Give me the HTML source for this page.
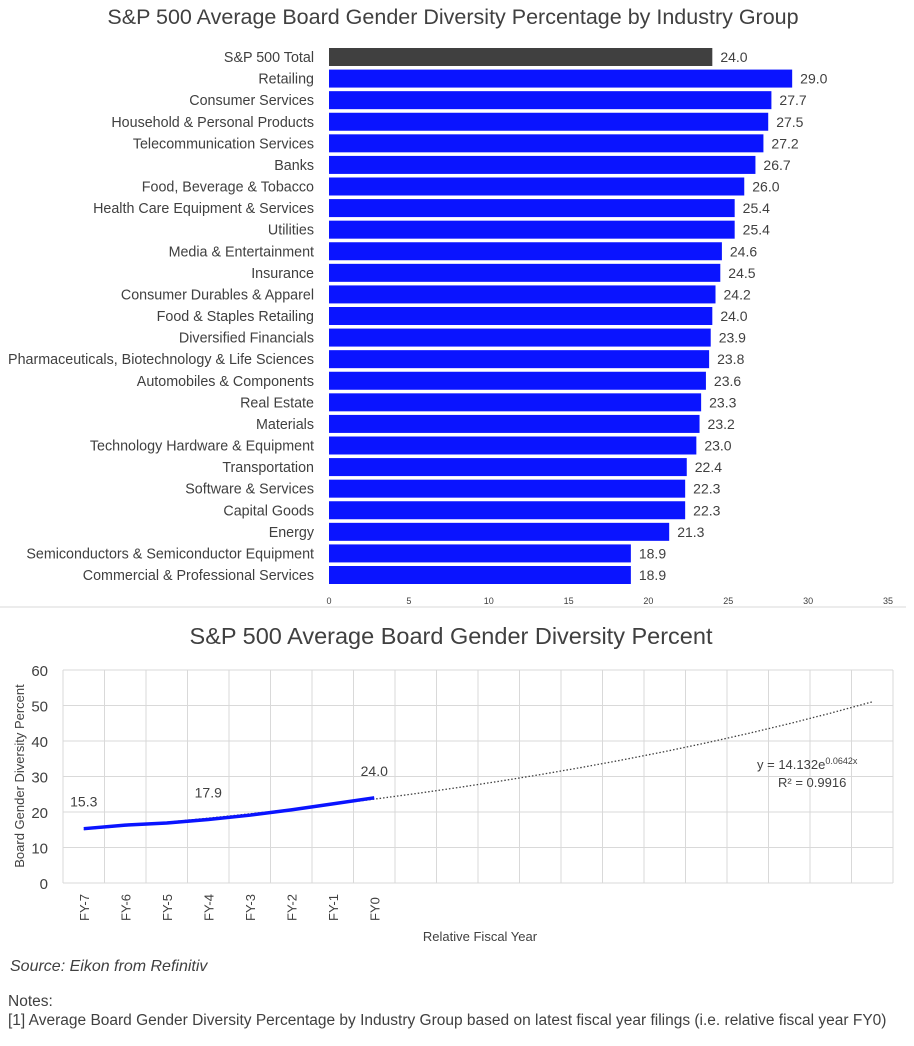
<!DOCTYPE html>
<html><head><meta charset="utf-8"><style>
body{margin:0;background:#fff;font-family:"Liberation Sans",sans-serif;}
svg text{font-family:"Liberation Sans",sans-serif;}
</style></head><body>
<svg id="c" width="914" height="1041" xmlns="http://www.w3.org/2000/svg">
<rect x="0" y="0" width="914" height="1041" fill="#fff"/>
<line x1="0" y1="607" x2="906" y2="607" stroke="#d9d9d9"/>
<text x="453" y="24" font-size="21.5" text-anchor="middle" fill="#404040">S&amp;P 500 Average Board Gender Diversity Percentage by Industry Group</text>
<text x="451" y="644" font-size="23.5" text-anchor="middle" fill="#404040">S&amp;P 500 Average Board Gender Diversity Percent</text>
<g id="topChart"></g><g id="botChart"></g>
<text x="10" y="971" font-size="16" font-style="italic" fill="#404040">Source: Eikon from Refinitiv</text>
<text x="8" y="1006" font-size="15.5" fill="#404040">Notes:</text>
<text x="8" y="1025" font-size="15.5" fill="#404040">[1] Average Board Gender Diversity Percentage by Industry Group based on latest fiscal year filings (i.e. relative fiscal year FY0)</text>
</svg>
<script>
const industries=["S&P 500 Total","Retailing","Consumer Services","Household & Personal Products","Telecommunication Services","Banks","Food, Beverage & Tobacco","Health Care Equipment & Services","Utilities","Media & Entertainment","Insurance","Consumer Durables & Apparel","Food & Staples Retailing","Diversified Financials","Pharmaceuticals, Biotechnology & Life Sciences","Automobiles & Components","Real Estate","Materials","Technology Hardware & Equipment","Transportation","Software & Services","Capital Goods","Energy","Semiconductors & Semiconductor Equipment","Commercial  & Professional Services"];
const industryValues=[24.0,29.0,27.7,27.5,27.2,26.7,26.0,25.4,25.4,24.6,24.5,24.2,24.0,23.9,23.8,23.6,23.3,23.2,23.0,22.4,22.3,22.3,21.3,18.9,18.9];
const xTicks=[0,5,10,15,20,25,30,35];
const years=["FY-7","FY-6","FY-5","FY-4","FY-3","FY-2","FY-1","FY0"];
const yearValues=[15.3,16.3,16.9,17.9,19.1,20.6,22.3,24.0];
const yTicks=[0,10,20,30,40,50,60];
const labeledYears=[0,3,7];
const trendA=14.132, trendB=0.0642, trendEndX=20;
const NS="http://www.w3.org/2000/svg";
function mk(p,t,a,txt){const e=document.createElementNS(NS,t);for(const k in a)e.setAttribute(k,a[k]);if(txt!==undefined)e.textContent=txt;p.appendChild(e);return e;}
const topG=document.getElementById('topChart');
const xs=v=>329+v*(888-329)/35;
const ry=i=>57+i*(575-57)/24;
xTicks.forEach(t=>{const e=mk(topG,'text',{x:xs(t),y:604,'font-size':9,'text-anchor':'middle',fill:'#404040'},t);

});
industries.forEach((n,i)=>{
 const y=ry(i),v=industryValues[i];
 const l=mk(topG,'text',{x:314,y:y+5,'font-size':14.3,'text-anchor':'end',fill:'#404040'},n);
 
 
 const b=mk(topG,'rect',{x:329,y:y-9,width:xs(v)-329,height:18,fill:i==0?'#404040':'#0a14ff'});
 
 
 const t=mk(topG,'text',{x:xs(v)+8,y:y+5,'font-size':14,fill:'#404040'},v.toFixed(1));
 
 
});
const botG=document.getElementById('botChart');
const L=63,R=893,T=670,B=883,N=20,step=(R-L)/N;
const cx=i=>L+step*(i+0.5);
const yy=v=>B-v*(B-T)/60;
yTicks.forEach(t=>{mk(botG,'line',{x1:L,x2:R,y1:yy(t),y2:yy(t),stroke:'#d9d9d9'});
const e=mk(botG,'text',{x:48,y:yy(t)+6,'font-size':15,'text-anchor':'end',fill:'#404040'},t);

});
for(let i=0;i<=N;i++)mk(botG,'line',{x1:L+i*step,x2:L+i*step,y1:T,y2:B,stroke:'#d9d9d9'});
years.forEach((n,i)=>{const e=mk(botG,'text',{transform:`translate(${cx(i)+5},${B+38}) rotate(-90)`,'font-size':13,fill:'#404040'},n);

});
let tp=[];for(let k=1;k<=trendEndX;k++)tp.push(cx(k-1)+','+yy(trendA*Math.exp(trendB*k)));
const tl=mk(botG,'polyline',{points:tp.join(' '),fill:'none',stroke:'#404040','stroke-width':1.3,'stroke-dasharray':'1.5 2'});


const ln=mk(botG,'polyline',{points:yearValues.map((v,i)=>cx(i)+','+yy(v)).join(' '),fill:'none',stroke:'#0a14ff','stroke-width':3.5});


labeledYears.forEach(i=>{const e=mk(botG,'text',{x:cx(i),y:yy(yearValues[i])-22,'font-size':14,'text-anchor':'middle',fill:'#404040'},yearValues[i].toFixed(1));

});
const eq=mk(botG,'text',{x:757,y:769,'font-size':13,fill:'#404040'});


mk(eq,'tspan',{},'y = 14.132e');
mk(eq,'tspan',{dy:-5,'font-size':9},'0.0642x');
const r2=mk(botG,'text',{x:778,y:787,'font-size':13,fill:'#404040'},'R² = 0.9916');


const yt=mk(botG,'text',{transform:'translate(24,776) rotate(-90)','font-size':13,'text-anchor':'middle',fill:'#404040'},'Board Gender Diversity Percent');


const xt=mk(botG,'text',{x:480,y:941,'font-size':13,'text-anchor':'middle',fill:'#404040'},'Relative Fiscal Year');


</script>
</body></html>
